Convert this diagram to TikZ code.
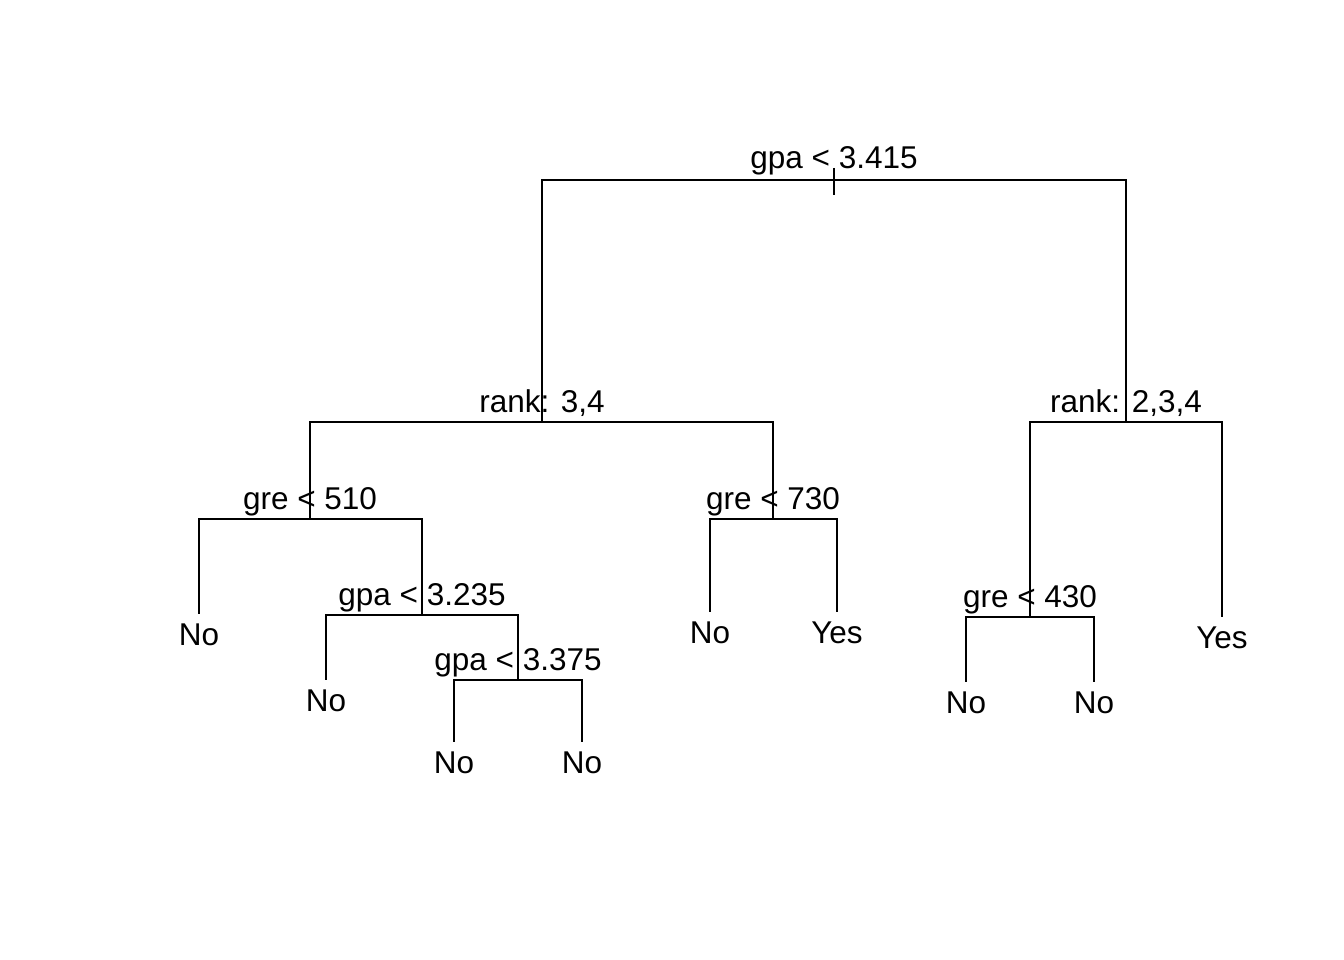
\documentclass[tikz,border=0pt]{standalone}
\usepackage{fontspec}
\setmainfont{Liberation Sans}
\usepackage{tikz}

\begin{document}
\begin{tikzpicture}[x=1pt, y=-1pt, line width=1.6pt,
    splitlbl/.style={anchor=base, inner sep=0pt, font=\fontsize{31.5}{36}\selectfont},
    leaflbl/.style={anchor=base, inner sep=0pt, font=\fontsize{31.5}{36}\selectfont}]
                \useasboundingbox (0,0) rectangle (1344,960);
                % split points
                \coordinate (Root) at (834,180);
                \coordinate (RankA) at (542,422);
                \coordinate (RankB) at (1126,422);
                \coordinate (GreA) at (310,519);
                \coordinate (GreB) at (773,519);
                \coordinate (GreC) at (1030,617);
                \coordinate (GpaA) at (422,615);
                \coordinate (GpaB) at (518,680);
                % leaf ends
                \coordinate (LeafA) at (199,614);
                \coordinate (LeafB) at (326,680);
                \coordinate (LeafC) at (454,742);
                \coordinate (LeafD) at (582,742);
                \coordinate (LeafE) at (710,612);
                \coordinate (LeafF) at (837,612);
                \coordinate (LeafG) at (966,682);
                \coordinate (LeafH) at (1094,682);
                \coordinate (LeafI) at (1222,617);
                \coordinate (RootTop) at (834,168);
                \coordinate (RootTick) at (834,195);
                % edges
                \draw (RootTop) -- (RootTick);
                \draw (Root) -| (RankA);
                \draw (Root) -| (RankB);
                \draw (RankA) -| (GreA);
                \draw (RankA) -| (GreB);
                \draw (RankB) -| (GreC);
                \draw (RankB) -| (LeafI);
                \draw (GreA) -| (LeafA);
                \draw (GreA) -| (GpaA);
                \draw (GpaA) -| (LeafB);
                \draw (GpaA) -| (GpaB);
                \draw (GpaB) -| (LeafC);
                \draw (GpaB) -| (LeafD);
                \draw (GreB) -| (LeafE);
                \draw (GreB) -| (LeafF);
                \draw (GreC) -| (LeafG);
                \draw (GreC) -| (LeafH);
                % split labels
                \node[splitlbl] (RootLbl) at (834,169) {gpa < 3.415};
                \node[splitlbl] (RankALbl) at (542,412) {rank: 3,4};
                \node[splitlbl] (RankBLbl) at (1126,412) {rank: 2,3,4};
                \node[splitlbl] (GreALbl) at (310,509) {gre < 510};
                \node[splitlbl] (GreBLbl) at (773,509) {gre < 730};
                \node[splitlbl] (GreCLbl) at (1030,607) {gre < 430};
                \node[splitlbl] (GpaALbl) at (422,605) {gpa < 3.235};
                \node[splitlbl] (GpaBLbl) at (518,670) {gpa < 3.375};
                % leaf labels
                \node[leaflbl] (LeafALbl) at (199,645) {No};
                \node[leaflbl] (LeafBLbl) at (326,711) {No};
                \node[leaflbl] (LeafCLbl) at (454,773) {No};
                \node[leaflbl] (LeafDLbl) at (582,773) {No};
                \node[leaflbl] (LeafELbl) at (710,643) {No};
                \node[leaflbl] (LeafFLbl) at (837,643) {Yes};
                \node[leaflbl] (LeafGLbl) at (966,713) {No};
                \node[leaflbl] (LeafHLbl) at (1094,713) {No};
                \node[leaflbl] (LeafILbl) at (1222,648) {Yes};
            \end{tikzpicture}
\end{document}
